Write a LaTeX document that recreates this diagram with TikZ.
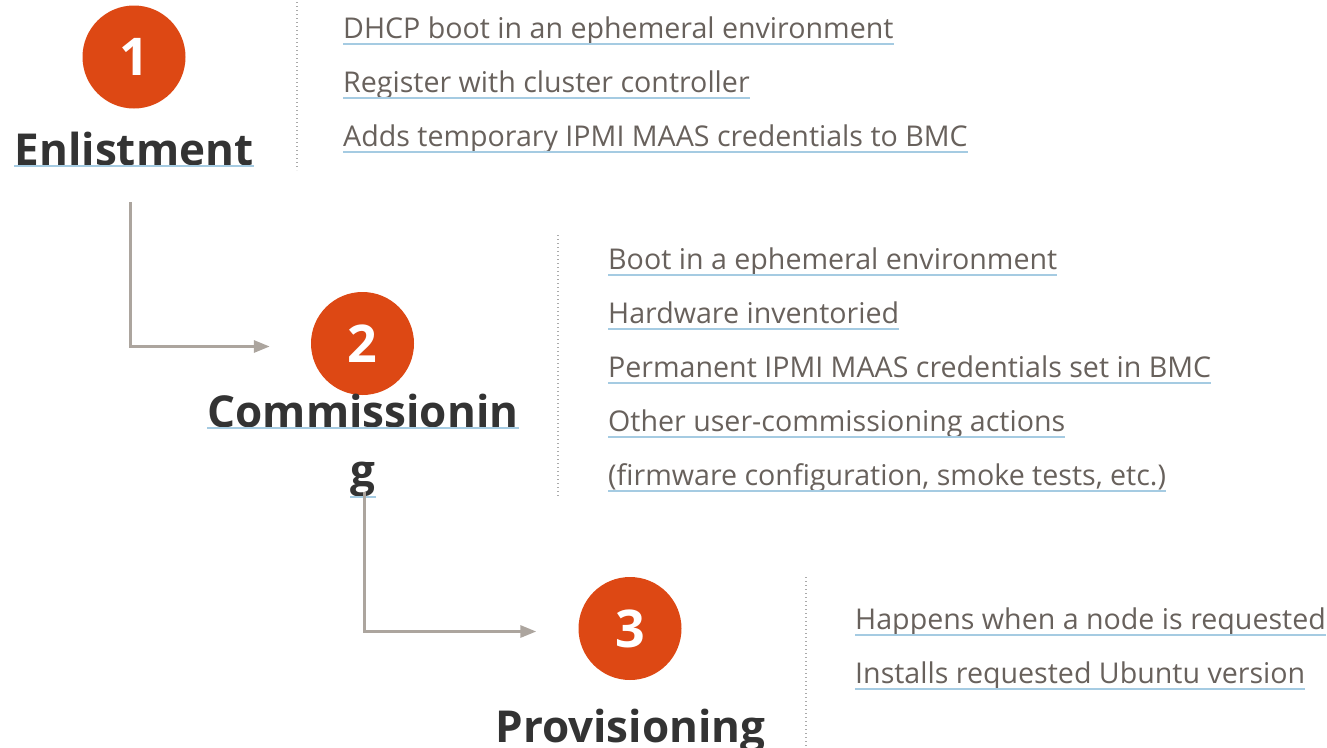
\documentclass[tikz,border=0pt]{standalone}
\usepackage{fontspec}
\setmainfont{Open Sans}
\usetikzlibrary{arrows.meta}
\definecolor{ubuorange}{RGB}{221,72,20}
\definecolor{bodygray}{RGB}{104,97,92}
\definecolor{titlegray}{RGB}{51,51,51}
\definecolor{ulblue}{RGB}{165,203,226}
\definecolor{arrowgray}{RGB}{172,165,158}
\definecolor{dotgray}{RGB}{170,170,170}
\begin{document}
\begin{tikzpicture}[x=1pt,y=-1pt,
  body/.style={anchor=base west, inner sep=0pt, text=bodygray, font=\fontsize{28.6}{34}\selectfont},
  title/.style={anchor=base, inner sep=0pt, text=titlegray, font=\fontsize{44}{54}\selectfont\bfseries},
  num/.style={circle, fill=ubuorange, minimum size=103pt, inner sep=0pt, text=white, font=\fontsize{52}{60}\selectfont\bfseries},
  uline/.style={draw=ulblue, line width=1.3pt},
  flow/.style={draw=arrowgray, line width=3pt, -{Triangle[length=16pt,width=12pt]}},
  sep/.style={draw=dotgray, line width=1.3pt, dash pattern=on 1.3pt off 2.7pt}]
\useasboundingbox (0,0) rectangle (1327,747);

% circles
\node[num] (c1) at (134,57) {1};
\node[num] (c2) at (362.5,343.5) {2};
\node[num] (c3) at (630,628.5) {3};

% titles
\node[title] (en) at (134,165) {Enlistment};
\node[title] (com) at (363,427) {Commissionin};
\node[title] (comg) at (363,486) {g};
\node[title] (pro) at (630.5,742) {Provisioning};

% separators
\coordinate (s1a) at (297,2);   \coordinate (s1b) at (297,170);
\coordinate (s2a) at (558,235); \coordinate (s2b) at (558,497);
\coordinate (s3a) at (806,577); \coordinate (s3b) at (806,747);
\draw[sep] (s1a) -- (s1b);
\draw[sep] (s2a) -- (s2b);
\draw[sep] (s3a) -- (s3b);

% body texts
\node[body] (e1) at (343,38) {DHCP boot in an ephemeral environment};
\node[body] (e2) at (343,92) {Register with cluster controller};
\node[body] (e3) at (343,146) {Adds temporary IPMI MAAS credentials to BMC};

\node[body] (m1) at (608,269) {Boot in a ephemeral environment\ };
\node[body] (m2) at (608,323) {Hardware inventoried};
\node[body] (m3) at (608,377) {Permanent IPMI MAAS credentials set in BMC};
\node[body] (m4) at (608,431) {Other user-commissioning actions\ };
\node[body] (m5) at (608,485) {(firmware configuration, smoke tests, etc.)};

\node[body] (p1) at (855,629) {Happens when a node is requested};
\node[body] (p2) at (855,683) {Installs requested Ubuntu version};

% underlines
\foreach \n in {e1,e2,e3,m1,m2,m3,m4,m5,p1,p2}
  \draw[uline] ([yshift=-6pt]\n.base west) -- ([yshift=-6pt]\n.base east);
\draw[uline] ([yshift=-1pt]en.base west) -- ([yshift=-1pt]en.base east);
\draw[uline] ([yshift=-1pt]com.base west) -- ([yshift=-1pt]com.base east);
\draw[uline] ([yshift=-11pt]comg.base west) -- ([yshift=-11pt]comg.base east);

% connectors
\coordinate (a1s) at (130,202);
\coordinate (a2s) at (364,492);
\draw[flow] (a1s) |- ([xshift=-41pt,yshift=-3pt]c2.west);
\draw[flow] (a2s) |- ([xshift=-42pt,yshift=-3pt]c3.west);
\end{tikzpicture}
\end{document}
